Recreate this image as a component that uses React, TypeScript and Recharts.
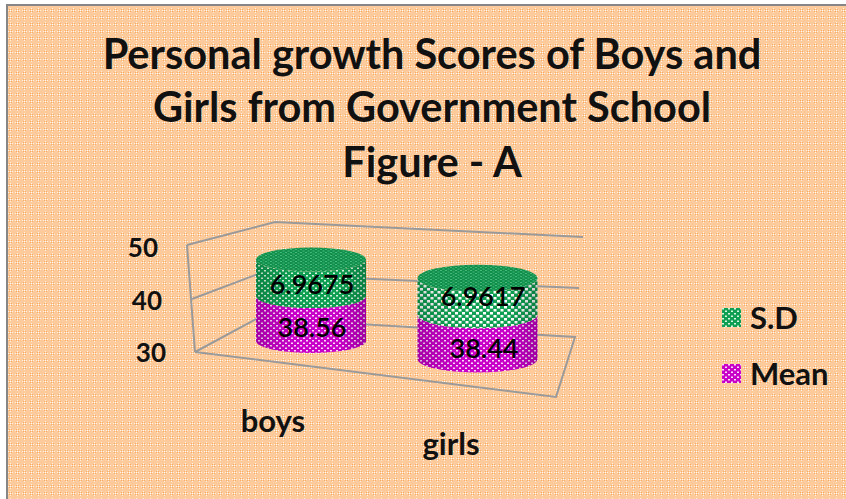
import React from 'react'
import { BarChart, Bar, XAxis, YAxis, Legend, LabelList } from 'recharts'

const CATEGORIES = ['boys', 'girls']
const MEAN = [38.56, 38.44]
const SD = [6.9675, 6.9617]
const Y_TICKS = [30, 40, 50]
const TITLE_LINES = ['Personal growth Scores of Boys and', 'Girls from Government School', 'Figure - A']

const FONT = 'Lato, "Open Sans", sans-serif'

const chartData = CATEGORIES.map((name, i) => ({
  name,
  mean: MEAN[i],
  sd: SD[i],
  meanRange: [30, MEAN[i]],
  sdRange: [MEAN[i], MEAN[i] + SD[i]],
}))

// fake 3D: each category sits somewhere else on the tilted floor
const DEPTH = [
  { dx: 0, dy: -11, grow: 1, ry: 12 },
  { dx: 0.5, dy: 7, grow: 1.09, ry: 13.5 },
]

const WALL_LINES = [
  [[187, 245], [195, 352]],
  [[187, 245], [275, 222], [583, 237]],
  [[192, 299], [258, 274], [579, 288]],
  [[195, 352], [258, 318], [575, 337], [556, 397], [195, 352]],
]

function Backdrop() {
  return (
    <g>
      <defs>
        <pattern id="bgDots" width="7" height="7" patternUnits="userSpaceOnUse">
          <rect width="7" height="7" fill="#fdca9c" />
          <rect x="3" y="3" width="1" height="1" fill="#ffffff" />
          <rect x="2" y="2" width="1" height="1" fill="#f9ae68" />
          <rect x="4" y="2" width="1" height="1" fill="#f9ae68" />
          <rect x="2" y="4" width="1" height="1" fill="#f9ae68" />
          <rect x="4" y="4" width="1" height="1" fill="#f9ae68" />
          <rect x="3" y="1" width="1" height="1" fill="#fff1e2" />
          <rect x="3" y="5" width="1" height="1" fill="#fff1e2" />
          <rect x="1" y="3" width="1" height="1" fill="#fff1e2" />
          <rect x="5" y="3" width="1" height="1" fill="#fff1e2" />
        </pattern>
        <pattern id="sdBoys" width="6" height="5" patternUnits="userSpaceOnUse">
          <rect width="6" height="5" fill="#0f9f52" />
          <rect x="0" y="0" width="2" height="1.5" fill="#d8f5e2" />
          <rect x="3" y="2.5" width="2" height="1.5" fill="#d8f5e2" />
        </pattern>
        <pattern id="sdGirls" width="7" height="6" patternUnits="userSpaceOnUse">
          <rect width="7" height="6" fill="#0f9f52" />
          <rect x="0" y="0" width="3" height="2.5" fill="#ffffff" />
          <rect x="3.5" y="3" width="3" height="2.5" fill="#ffffff" />
        </pattern>
        <pattern id="meanDots" width="6" height="5" patternUnits="userSpaceOnUse">
          <rect width="6" height="5" fill="#c800c8" />
          <rect x="0" y="0" width="2" height="1.5" fill="#fbdcfb" />
          <rect x="3" y="2.5" width="2" height="1.5" fill="#fbdcfb" />
        </pattern>
        <pattern id="topDots" width="5" height="3" patternUnits="userSpaceOnUse">
          <rect width="5" height="3" fill="#108f4b" />
          <rect x="0" y="0" width="2" height="1" fill="#45b87c" />
          <rect x="2.5" y="1.5" width="2" height="1" fill="#45b87c" />
        </pattern>
        <linearGradient id="sideShade" x1="0" y1="0" x2="1" y2="0">
          <stop offset="0" stopColor="#000" stopOpacity="0.16" />
          <stop offset="0.35" stopColor="#000" stopOpacity="0" />
          <stop offset="0.75" stopColor="#000" stopOpacity="0" />
          <stop offset="1" stopColor="#000" stopOpacity="0.2" />
        </linearGradient>
      </defs>
      <rect width="846" height="499" fill="#fff" />
      <rect x="7" y="5" width="839" height="494" fill="url(#bgDots)" />
      <path d="M7 499V5H846" fill="none" stroke="#868686" strokeWidth="2" />
      {TITLE_LINES.map((line, i) => (
        <text key={line} x={432} y={[69, 122, 177][i]} textAnchor="middle" fontFamily={FONT} fontWeight={700} fontSize={41.5} fill="#111">
          {line}
        </text>
      ))}
      {WALL_LINES.map((pts, i) => (
        <polyline key={i} points={pts.map((p) => p.join(',')).join(' ')} fill="none" stroke="#9a9a9a" strokeWidth="2" />
      ))}
    </g>
  )
}

function Cylinder(props: any) {
  const { x, y, width, height, index, series } = props
  const d = DEPTH[index]
  const w = width * d.grow
  const cx = x + width / 2 + d.dx
  const left = cx - w / 2
  const right = cx + w / 2
  const top = y + d.dy
  const bottom = y + height + d.dy
  const side = `M${left} ${top}L${left} ${bottom}A${w / 2} ${d.ry} 0 0 0 ${right} ${bottom}L${right} ${top}A${w / 2} ${d.ry} 0 0 1 ${left} ${top}Z`
  const fill = series === 'mean' ? 'url(#meanDots)' : index === 0 ? 'url(#sdBoys)' : 'url(#sdGirls)'
  return (
    <g>
      <path d={side} fill={fill} />
      <path d={side} fill="url(#sideShade)" />
      {series === 'sd' && <ellipse cx={cx} cy={top} rx={w / 2} ry={d.ry} fill="url(#topDots)" />}
    </g>
  )
}

function valueLabel(values: number[], offsets: number[][]) {
  return (props: any) => {
    const { x, y, width, height, index } = props
    const [dx, dy] = offsets[index]
    return (
      <text x={x + width / 2 + dx} y={y + height / 2 + dy} textAnchor="middle" dominantBaseline="central" fontFamily={FONT} fontWeight={600} fontSize={27} fill="#000">
        {values[index]}
      </text>
    )
  }
}

function YTick(props: any) {
  const { x, y, payload } = props
  const lean = (50 - payload.value) * 0.4
  return (
    <text x={x - 70 + lean} y={y} textAnchor="end" dominantBaseline="central" fontFamily={FONT} fontWeight={700} fontSize={26} fill="#111">
      {payload.value}
    </text>
  )
}

function XTick(props: any) {
  const { x, y, payload, index } = props
  const shift = [[-38, 68], [-26, 91]][index]
  return (
    <text x={x + shift[0]} y={y + shift[1]} textAnchor="middle" dominantBaseline="central" fontFamily={FONT} fontWeight={700} fontSize={31} fill="#111">
      {payload.value}
    </text>
  )
}

function LegendBox() {
  const items = [
    { label: 'S.D', fill: 'url(#sdBoys)' },
    { label: 'Mean', fill: 'url(#meanDots)' },
  ]
  return (
    <div>
      {items.map((item) => (
        <div key={item.label} style={{ display: 'flex', alignItems: 'center', height: 56 }}>
          <svg width={19} height={19} style={{ marginRight: 9 }}>
            <rect width={19} height={19} fill={item.fill} />
          </svg>
          <span style={{ fontFamily: FONT, fontWeight: 700, fontSize: 31, color: '#111' }}>{item.label}</span>
        </div>
      ))}
    </div>
  )
}

export default function App() {
  return (
    <div style={{ position: 'absolute', left: 0, top: 0 }}>
      <BarChart
        width={846}
        height={499}
        data={chartData}
        margin={{ top: 247, right: 286, bottom: 0, left: 138 }}
        barSize={110}
        barGap={-110}
      >
        <Backdrop />
        <XAxis dataKey="name" axisLine={false} tickLine={false} tickSize={0} tickMargin={0} tick={<XTick />} height={147} interval={0} />
        <YAxis type="number" domain={[30, 50]} ticks={Y_TICKS} axisLine={false} tickLine={false} tickSize={0} tickMargin={0} tick={<YTick />} width={90} />
        <Legend
          content={<LegendBox />}
          layout="vertical"
          align="center"
          verticalAlign="middle"
          wrapperStyle={{ position: 'absolute', left: 722, top: 289, width: 124, bottom: 'auto' }}
        />
        <Bar dataKey="meanRange" name="Mean" isAnimationActive={false} shape={<Cylinder series="mean" />}>
          <LabelList dataKey="mean" content={valueLabel(MEAN, [[1, -3], [7, 18]])} />
        </Bar>
        <Bar dataKey="sdRange" name="S.D" isAnimationActive={false} shape={<Cylinder series="sd" />}>
          <LabelList dataKey="sd" content={valueLabel(SD, [[1, -5], [6, 6]])} />
        </Bar>
      </BarChart>
    </div>
  )
}
